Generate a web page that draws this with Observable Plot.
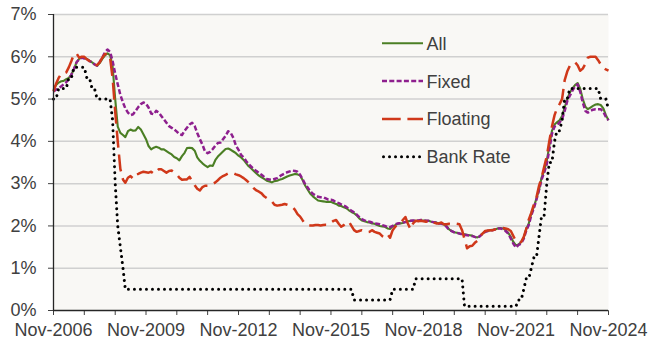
<!DOCTYPE html>
<html><head><meta charset="utf-8">
<script src="https://cdn.jsdelivr.net/npm/d3@7"></script>
<script src="https://cdn.jsdelivr.net/npm/@observablehq/plot@0.6"></script>
<style>
html,body{margin:0;padding:0;background:#fff;}
#chart{width:668px;height:352px;}
</style></head><body><div id="chart"></div>
<script>
// Monthly data, first value = Nov-2006, last = Nov-2024 (one row per Nov..Oct year)
const startMonth = "2006-11";

const allRates = [
5.22,5.33,5.39,5.42,5.43,5.47,5.50,5.58,5.70,5.87,5.95,5.98,
5.97,5.95,5.91,5.87,5.82,5.79,5.85,5.95,6.03,6.08,6.04,5.78,
5.00,4.35,4.20,4.15,4.10,4.24,4.28,4.25,4.26,4.34,4.28,4.17,
4.05,3.89,3.81,3.85,3.87,3.85,3.81,3.81,3.77,3.73,3.69,3.63,
3.60,3.55,3.65,3.73,3.84,3.85,3.84,3.78,3.62,3.54,3.48,3.43,
3.39,3.43,3.42,3.56,3.64,3.70,3.76,3.82,3.83,3.80,3.76,3.72,
3.66,3.62,3.56,3.48,3.41,3.36,3.30,3.24,3.19,3.15,3.11,3.07,
3.05,3.03,3.06,3.07,3.09,3.11,3.14,3.17,3.19,3.21,3.23,3.22,
3.19,3.08,2.95,2.85,2.76,2.70,2.65,2.60,2.59,2.58,2.57,2.57,
2.57,2.54,2.52,2.48,2.47,2.44,2.42,2.37,2.33,2.30,2.25,2.18,
2.13,2.11,2.09,2.08,2.06,2.05,2.02,2.00,1.99,1.98,1.94,1.93,
1.99,2.02,2.05,2.06,2.07,2.09,2.11,2.12,2.12,2.12,2.12,2.13,
2.13,2.12,2.12,2.10,2.09,2.08,2.06,2.06,2.03,2.00,1.92,1.88,
1.85,1.84,1.82,1.81,1.80,1.79,1.78,1.77,1.74,1.73,1.76,1.82,
1.87,1.88,1.90,1.91,1.92,1.94,1.95,1.94,1.90,1.84,1.74,1.62,
1.54,1.56,1.62,1.72,1.92,2.05,2.30,2.45,2.65,2.85,3.15,3.30,
3.54,3.90,4.25,4.40,4.45,4.50,4.60,4.80,5.00,5.16,5.25,5.33,
5.38,5.25,5.00,4.82,4.76,4.80,4.84,4.87,4.88,4.86,4.78,4.62,
4.50];

const fixedRates = [
5.18,5.22,5.26,5.30,5.35,5.40,5.47,5.58,5.71,5.87,5.94,5.98,
5.96,5.94,5.90,5.87,5.82,5.79,5.88,5.98,6.10,6.17,6.12,5.90,
5.60,5.35,5.10,4.92,4.78,4.68,4.62,4.64,4.72,4.81,4.88,4.92,
4.89,4.80,4.66,4.64,4.72,4.68,4.60,4.52,4.44,4.36,4.32,4.28,
4.23,4.17,4.15,4.25,4.32,4.40,4.44,4.36,4.20,4.05,3.92,3.76,
3.72,3.75,3.82,3.90,3.96,3.97,4.05,4.13,4.24,4.20,4.08,3.90,
3.80,3.68,3.62,3.53,3.46,3.40,3.34,3.30,3.25,3.21,3.16,3.11,
3.10,3.09,3.11,3.13,3.17,3.21,3.24,3.27,3.29,3.31,3.30,3.28,
3.21,3.10,2.98,2.90,2.82,2.76,2.72,2.69,2.68,2.68,2.65,2.62,
2.62,2.60,2.56,2.54,2.51,2.48,2.45,2.40,2.36,2.32,2.27,2.21,
2.16,2.13,2.11,2.10,2.08,2.06,2.05,2.04,2.02,2.00,1.97,1.97,
2.00,2.04,2.06,2.07,2.08,2.09,2.10,2.12,2.13,2.13,2.13,2.14,
2.14,2.12,2.12,2.10,2.09,2.08,2.06,2.06,2.02,1.98,1.90,1.88,
1.85,1.84,1.82,1.80,1.79,1.78,1.77,1.76,1.74,1.72,1.76,1.82,
1.86,1.88,1.90,1.90,1.92,1.94,1.94,1.92,1.88,1.82,1.70,1.58,
1.49,1.55,1.58,1.70,1.88,2.02,2.25,2.42,2.62,2.85,3.10,3.26,
3.46,3.80,4.18,4.35,4.38,4.45,4.52,4.72,4.95,5.08,5.20,5.30,
5.35,5.18,4.92,4.72,4.68,4.72,4.75,4.76,4.76,4.76,4.70,4.58,
4.50];

const floatingRates = [
5.18,5.36,5.50,5.60,5.60,5.63,5.75,5.90,6.06,6.08,5.98,6.00,
6.00,5.94,5.90,5.84,5.79,5.81,5.87,5.98,6.06,6.08,5.98,5.50,
4.70,4.00,3.35,3.10,3.02,3.14,3.18,3.12,3.22,3.23,3.26,3.28,
3.27,3.26,3.28,3.23,3.28,3.34,3.34,3.30,3.26,3.30,3.31,3.26,
3.22,3.14,3.09,3.10,3.10,3.16,3.06,2.96,2.88,2.84,2.92,2.95,
2.95,2.96,2.99,3.03,3.08,3.14,3.18,3.21,3.24,3.26,3.25,3.22,
3.20,3.17,3.13,3.08,3.03,2.96,2.89,2.84,2.81,2.77,2.70,2.66,
2.62,2.58,2.50,2.48,2.49,2.50,2.52,2.50,2.48,2.45,2.38,2.28,
2.22,2.13,2.05,2.02,2.01,2.01,2.02,2.02,2.01,2.02,2.03,2.03,
2.08,2.12,2.14,2.05,1.98,2.02,2.08,2.10,2.00,1.90,1.86,1.88,
1.90,1.88,1.85,1.86,1.90,1.86,1.84,1.82,1.76,1.73,1.80,1.72,
1.90,1.98,2.04,2.08,2.14,2.21,2.05,1.92,2.06,2.12,2.11,2.12,
2.11,2.10,2.12,2.07,2.08,2.06,2.06,2.08,2.04,2.04,2.05,2.04,
2.06,2.05,2.04,1.90,1.69,1.47,1.52,1.53,1.60,1.65,1.76,1.82,
1.88,1.89,1.90,1.90,1.92,1.93,1.94,1.95,1.94,1.92,1.88,1.76,
1.64,1.61,1.62,1.74,1.92,2.15,2.31,2.51,2.67,2.95,3.15,3.40,
3.65,4.01,4.35,4.62,4.78,4.88,5.00,5.45,5.65,5.79,5.84,5.87,
5.80,5.67,5.72,5.83,5.98,6.00,6.00,6.00,5.92,5.82,5.74,5.70,
5.67];

const bankRate = [
5.00,5.00,5.25,5.25,5.25,5.25,5.50,5.50,5.75,5.75,5.75,5.75,
5.75,5.50,5.50,5.25,5.25,5.00,5.00,5.00,5.00,5.00,5.00,4.50,
3.00,2.00,1.50,1.00,0.50,0.50,0.50,0.50,0.50,0.50,0.50,0.50,
0.50,0.50,0.50,0.50,0.50,0.50,0.50,0.50,0.50,0.50,0.50,0.50,
0.50,0.50,0.50,0.50,0.50,0.50,0.50,0.50,0.50,0.50,0.50,0.50,
0.50,0.50,0.50,0.50,0.50,0.50,0.50,0.50,0.50,0.50,0.50,0.50,
0.50,0.50,0.50,0.50,0.50,0.50,0.50,0.50,0.50,0.50,0.50,0.50,
0.50,0.50,0.50,0.50,0.50,0.50,0.50,0.50,0.50,0.50,0.50,0.50,
0.50,0.50,0.50,0.50,0.50,0.50,0.50,0.50,0.50,0.50,0.50,0.50,
0.50,0.50,0.50,0.50,0.50,0.50,0.50,0.50,0.50,0.25,0.25,0.25,
0.25,0.25,0.25,0.25,0.25,0.25,0.25,0.25,0.25,0.25,0.25,0.25,
0.50,0.50,0.50,0.50,0.50,0.50,0.50,0.50,0.50,0.75,0.75,0.75,
0.75,0.75,0.75,0.75,0.75,0.75,0.75,0.75,0.75,0.75,0.75,0.75,
0.75,0.75,0.75,0.75,0.10,0.10,0.10,0.10,0.10,0.10,0.10,0.10,
0.10,0.10,0.10,0.10,0.10,0.10,0.10,0.10,0.10,0.10,0.10,0.10,
0.10,0.25,0.25,0.50,0.75,0.75,1.00,1.25,1.25,1.75,2.25,2.25,
3.00,3.50,3.50,4.00,4.25,4.25,4.50,5.00,5.00,5.25,5.25,5.25,
5.25,5.25,5.25,5.25,5.25,5.25,5.25,5.25,5.25,5.00,5.00,5.00,
4.75];

const seriesNames = ["All", "Fixed", "Floating", "Bank Rate"];
const seriesColors = ["#4b7f24", "#8e1f8e", "#d0381a", "#000000"];
const yTicks = [0, 1, 2, 3, 4, 5, 6, 7];
const xTickMonths = ["2006-11","2007-11","2008-11","2009-11","2010-11","2011-11","2012-11","2013-11","2014-11","2015-11","2016-11","2017-11","2018-11","2019-11","2020-11","2021-11","2022-11","2023-11","2024-11"];
const xTickLabels = ["Nov-2006","Nov-2009","Nov-2012","Nov-2015","Nov-2018","Nov-2021","Nov-2024"];

const parseMonth = d3.utcParse("%Y-%m");
const fmtLabel = d3.utcFormat("%b-%Y");
const start = parseMonth(startMonth);
const months = allRates.map((_, i) => d3.utcMonth.offset(start, i));
const seriesValues = [allRates, fixedRates, floatingRates, bankRate];
const rows = [];
seriesValues.forEach((vals, s) => vals.forEach((v, i) => rows.push({series: seriesNames[s], date: months[i], value: v})));

const styles = {
  "All":       {strokeWidth: 2.1, dash: null, legendDash: null, cap: "butt"},
  "Fixed":     {strokeWidth: 2.5, dash: "5,2.3", legendDash: "5,2.3", cap: "butt"},
  "Floating":  {strokeWidth: 2.5, dash: "17,7", legendDash: "18.7,6.7", cap: "butt"},
  "Bank Rate": {strokeWidth: 3, dash: "0.01,6", legendDash: "0.01,6", cap: "round"}
};

const tickDates = xTickMonths.map(parseMonth);
const labelSet = new Set(xTickLabels);

const lineMarks = seriesNames.map((name, s) => Plot.line(rows.filter(r => r.series === name), {
  x: "date", y: "value", stroke: seriesColors[s],
  strokeWidth: styles[name].strokeWidth,
  strokeDasharray: styles[name].dash,
  strokeLinecap: styles[name].cap,
  strokeLinejoin: "round"
}));

const fontFamily = "'Liberation Sans', Arial, sans-serif";
const chart = Plot.plot({
  width: 668, height: 352,
  marginLeft: 53, marginRight: 60, marginTop: 14, marginBottom: 42,
  style: {fontFamily, fontSize: "18px", color: "#404040", background: "#ffffff"},
  x: {type: "utc", domain: [months[0], months[months.length - 1]], ticks: tickDates,
      tickFormat: d => labelSet.has(fmtLabel(d)) ? fmtLabel(d) : "", tickSize: 5, tickPadding: 8, label: null},
  y: {domain: [yTicks[0], yTicks[yTicks.length - 1]], ticks: yTicks, tickFormat: d => d + "%",
      tickSize: 5, tickPadding: 12, label: null},
  marks: [
    Plot.frame({fill: "#f9f8f5", stroke: "none"}),
    Plot.ruleY(yTicks.filter(d => d > 0), {stroke: "#d0d0d0", strokeWidth: 1.5}),
    ...lineMarks,
    Plot.ruleX([months[0]], {stroke: "#262626", strokeWidth: 1.3}),
    Plot.ruleY([yTicks[0]], {stroke: "#262626", strokeWidth: 1.3})
  ]
});
document.getElementById("chart").appendChild(chart);

// Legend inside the plot area
const svg = d3.select(chart);
const lg = svg.append("g").attr("font-family", fontFamily).attr("font-size", "18px").attr("text-anchor", "start");
const legendX = 382, legendTop = 43.3, legendStep = 37.8, swatchLen = 41;
seriesNames.forEach((name, i) => {
  const y = legendTop + i * legendStep;
  lg.append("line").attr("x1", legendX + (name === "Bank Rate" ? 1.5 : 0)).attr("x2", legendX + swatchLen).attr("y1", y).attr("y2", y)
    .attr("stroke", seriesColors[i]).attr("stroke-width", styles[name].strokeWidth)
    .attr("stroke-dasharray", styles[name].legendDash)
    .attr("stroke-linecap", styles[name].cap);
  lg.append("text").attr("x", legendX + swatchLen + 3.5).attr("y", y).attr("dy", "0.36em")
    .attr("text-anchor", "start").attr("fill", "#404040").text(name);
});
</script></body></html>
